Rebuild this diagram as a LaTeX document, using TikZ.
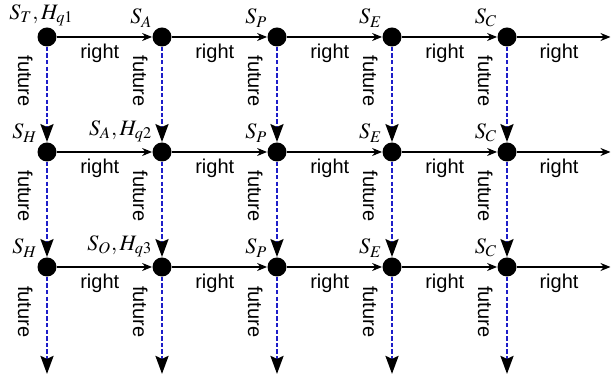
\documentclass[tikz,border=0pt]{standalone}
\usepackage{mathptmx}
\usepackage[no-math]{fontspec}
\setmainfont{Liberation Sans}
\usetikzlibrary{arrows.meta}
\definecolor{futureblue}{RGB}{30,30,200}

\begin{document}
\begin{tikzpicture}[x=57.5pt, y=57.5pt,
    state/.style={fill=black, circle, inner sep=0pt, minimum size=9.5pt},
    lbl/.style={inner sep=1.2pt, font=\fontsize{11}{13}\selectfont},
    rightarr/.style={-{Stealth[length=5pt,width=4pt]}, line width=0.6pt},
    futurearr/.style={-{Stealth[length=9pt,width=6.5pt,inset=1.5pt,color=black]}, futureblue, line width=1.3pt, dash pattern=on 2.2pt off 1.1pt},
    rlabel/.style={pos=0.45, below},
    flabel/.style={pos=0.36, rotate=-90, anchor=north, inner sep=6.5pt, text=black}]
    \useasboundingbox (-0.4087,0.3217) rectangle (4.9043,-2.9565);

    % first row of states
    \node[state, label={[lbl, xshift=-2.75pt, yshift=-1pt]above:$S_T,H_{q1}$}] (t1) at (0,0) {};
    \node[state, label={[lbl]above left:$S_A$}] (a1) at (1,0) {};
    \node[state, label={[lbl]above left:$S_P$}] (p1) at (2,0) {};
    \node[state, label={[lbl]above left:$S_E$}] (e1) at (3,0) {};
    \node[state, label={[lbl]above left:$S_C$}] (c1) at (4,0) {};

    % second row of states
    \node[state, label={[lbl]above left:$S_H$}] (h2) at (0,-1) {};
    \node[state, label={[lbl]above left:$S_A,H_{q2}$}] (a2) at (1,-1) {};
    \node[state, label={[lbl]above left:$S_P$}] (p2) at (2,-1) {};
    \node[state, label={[lbl]above left:$S_E$}] (e2) at (3,-1) {};
    \node[state, label={[lbl]above left:$S_C$}] (c2) at (4,-1) {};

    % third row of states
    \node[state, label={[lbl]above left:$S_H$}] (h3) at (0,-2) {};
    \node[state, label={[lbl]above left:$S_O,H_{q3}$}] (o3) at (1,-2) {};
    \node[state, label={[lbl]above left:$S_P$}] (p3) at (2,-2) {};
    \node[state, label={[lbl]above left:$S_E$}] (e3) at (3,-2) {};
    \node[state, label={[lbl]above left:$S_C$}] (c3) at (4,-2) {};

    % free ends
    \coordinate (r1) at (4.9,0);
    \coordinate (r2) at (4.9,-1);
    \coordinate (r3) at (4.9,-2);
    \coordinate (d1) at (0,-2.93);
    \coordinate (d2) at (1,-2.93);
    \coordinate (d3) at (2,-2.93);
    \coordinate (d4) at (3,-2.93);
    \coordinate (d5) at (4,-2.93);

    % right moves
    \draw[rightarr] (t1) -- node[rlabel] {right} (a1);
    \draw[rightarr] (a1) -- node[rlabel] {right} (p1);
    \draw[rightarr] (p1) -- node[rlabel] {right} (e1);
    \draw[rightarr] (e1) -- node[rlabel] {right} (c1);
    \draw[rightarr] (c1) -- node[rlabel] {right} (r1);
    \draw[rightarr] (h2) -- node[rlabel] {right} (a2);
    \draw[rightarr] (a2) -- node[rlabel] {right} (p2);
    \draw[rightarr] (p2) -- node[rlabel] {right} (e2);
    \draw[rightarr] (e2) -- node[rlabel] {right} (c2);
    \draw[rightarr] (c2) -- node[rlabel] {right} (r2);
    \draw[rightarr] (h3) -- node[rlabel] {right} (o3);
    \draw[rightarr] (o3) -- node[rlabel] {right} (p3);
    \draw[rightarr] (p3) -- node[rlabel] {right} (e3);
    \draw[rightarr] (e3) -- node[rlabel] {right} (c3);
    \draw[rightarr] (c3) -- node[rlabel] {right} (r3);

    % future moves
    \draw[futurearr] (t1) -- node[flabel] {future} (h2);
    \draw[futurearr] (a1) -- node[flabel] {future} (a2);
    \draw[futurearr] (p1) -- node[flabel] {future} (p2);
    \draw[futurearr] (e1) -- node[flabel] {future} (e2);
    \draw[futurearr] (c1) -- node[flabel] {future} (c2);
    \draw[futurearr] (h2) -- node[flabel] {future} (h3);
    \draw[futurearr] (a2) -- node[flabel] {future} (o3);
    \draw[futurearr] (p2) -- node[flabel] {future} (p3);
    \draw[futurearr] (e2) -- node[flabel] {future} (e3);
    \draw[futurearr] (c2) -- node[flabel] {future} (c3);
    \draw[futurearr] (h3) -- node[flabel] {future} (d1);
    \draw[futurearr] (o3) -- node[flabel] {future} (d2);
    \draw[futurearr] (p3) -- node[flabel] {future} (d3);
    \draw[futurearr] (e3) -- node[flabel] {future} (d4);
    \draw[futurearr] (c3) -- node[flabel] {future} (d5);
\end{tikzpicture}
\end{document}
